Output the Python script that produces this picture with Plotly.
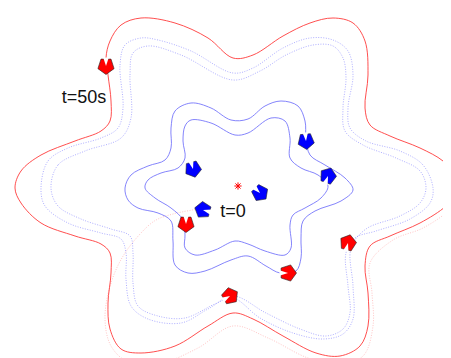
import plotly.graph_objects as go

# ---- trajectories (x right, y down, pixel-like units) ----
red_outer_x = [7, 13, 33, 67, 93, 102, 103, 100, 98, 102, 113, 133, 167, 200, 225, 245, 275, 302, 325, 345, 357, 360, 357, 362, 382, 412, 435, 447, 450, 448, 438, 412, 382, 362, 357, 360, 360, 352, 332, 308, 275, 245, 225, 200, 167, 133, 113, 102, 100, 103, 102, 93, 67, 33, 13, 7]
red_outer_y = [180, 163, 147, 133, 123, 113, 93, 67, 50, 33, 17, 10, 15, 30, 50, 47, 28, 15, 10, 15, 33, 67, 100, 117, 128, 140, 153, 167, 180, 185, 198, 215, 228, 238, 258, 285, 318, 338, 348, 345, 328, 311, 305, 318, 338, 345, 341, 321, 295, 265, 245, 236, 228, 215, 195, 180]

red_faint_x = [190, 165, 150, 140, 117, 103, 97, 103, 120, 150, 190, 225, 260, 300, 330, 355, 365, 364, 362, 385, 415, 440, 451]
red_faint_y = [201, 206, 211, 218, 245, 275, 311, 338, 354, 356, 340, 318, 330, 350, 356, 348, 318, 285, 255, 232, 220, 203, 188]

dot_outer_x = [33, 40, 60, 93, 110, 115, 112, 117, 133, 150, 183, 225, 245, 275, 302, 325, 340, 345, 340, 342, 358, 392, 415, 425, 422, 402, 368, 347, 338, 340, 342, 335, 318, 292, 258, 225, 200, 173, 140, 123, 118, 118, 113, 93, 60, 37, 33]
dot_outer_y = [180, 153, 140, 130, 120, 100, 57, 37, 30, 32, 43, 65, 60, 40, 30, 32, 43, 67, 100, 120, 133, 143, 157, 180, 195, 211, 223, 230, 245, 278, 305, 321, 328, 321, 305, 288, 301, 315, 311, 298, 271, 245, 231, 225, 215, 198, 180]

dot_inner_x = [43, 50, 77, 113, 123, 122, 125, 140, 173, 225, 252, 278, 305, 325, 335, 338, 335, 337, 355, 388, 412, 418, 412, 392, 358, 343, 345, 345, 335, 315, 285, 252, 225, 207, 177, 150, 130, 125, 125, 122, 103, 73, 50, 43]
dot_inner_y = [180, 157, 143, 130, 110, 67, 45, 38, 47, 72, 63, 47, 37, 38, 50, 70, 100, 123, 137, 150, 163, 180, 195, 208, 221, 240, 278, 311, 326, 331, 325, 310, 290, 296, 310, 308, 298, 275, 245, 228, 221, 211, 198, 180]

solid_outer_x = [117, 123, 140, 157, 163, 163, 167, 183, 203, 223, 240, 257, 273, 290, 297, 298, 302, 317, 337, 345, 333, 307, 295, 293, 293, 288, 272, 258, 240, 223, 197, 180, 167, 165, 163, 150, 130, 120, 117]
solid_outer_y = [180, 167, 158, 152, 140, 120, 103, 95, 100, 112, 111, 98, 93, 98, 113, 130, 147, 157, 170, 182, 193, 203, 213, 230, 250, 263, 265, 258, 248, 252, 263, 265, 257, 233, 213, 205, 200, 192, 180]

solid_inner_x = [137, 140, 153, 170, 177, 175, 177, 183, 203, 227, 240, 263, 277, 282, 282, 293, 310, 320, 313, 297, 285, 282, 283, 277, 257, 240, 227, 207, 187, 177, 177, 175, 163, 147, 137]
solid_inner_y = [180, 172, 165, 160, 150, 133, 118, 112, 115, 127, 125, 110, 113, 130, 150, 160, 167, 178, 190, 200, 207, 217, 240, 247, 243, 236, 233, 242, 247, 240, 227, 212, 200, 190, 180]

# ---- agent headings ----
red_arrow_x = [98, 178, 222, 280, 340]
red_arrow_y = [58, 216, 288, 265, 235]
red_arrow_dir = [180, 180, 60, 90, 15]

blue_arrow_x = [185, 195, 252, 298, 320]
blue_arrow_y = [161, 202, 185, 133, 168]
blue_arrow_dir = [165, 285, 135, 175, 20]

center_x = [230]
center_y = [178]

labels = ["t=50s", "t=0"]
label_x = [76, 225]
label_y = [90, 204]

fig = go.Figure()


def add_curve(x, y, color, dash, width):
    fig.add_trace(go.Scatter(
        x=x, y=y, mode="lines",
        line=dict(color=color, width=width, dash=dash, shape="spline", smoothing=1.0),
        hoverinfo="skip", showlegend=False))


add_curve(red_faint_x, red_faint_y, "rgba(255,140,140,0.5)", "1px,1.5px", 1)
add_curve(dot_outer_x, dot_outer_y, "rgba(130,130,255,0.65)", "1px,1.5px", 1)
add_curve(dot_inner_x, dot_inner_y, "rgba(130,130,255,0.65)", "1px,1.5px", 1)
add_curve(solid_outer_x, solid_outer_y, "rgba(110,110,250,0.85)", "solid", 1)
add_curve(solid_inner_x, solid_inner_y, "rgba(110,110,250,0.85)", "solid", 1)
add_curve(red_outer_x, red_outer_y, "rgba(255,60,60,0.9)", "solid", 1)


def add_arrows(x, y, d, color):
    fig.add_trace(go.Scatter(
        x=x, y=y, mode="markers",
        marker=dict(symbol="pentagon", size=17, angle=d, color=color,
                    line=dict(color="#222222", width=0.6)),
        hoverinfo="skip", showlegend=False))
    fig.add_trace(go.Scatter(
        x=x, y=y, mode="markers",
        marker=dict(symbol="arrow", size=9, angle=d, color="white",
                    line=dict(width=0)),
        hoverinfo="skip", showlegend=False))


add_arrows(red_arrow_x, red_arrow_y, red_arrow_dir, "#ff0000")
add_arrows(blue_arrow_x, blue_arrow_y, blue_arrow_dir, "#0000ff")

fig.add_trace(go.Scatter(
    x=center_x, y=center_y, mode="markers",
    marker=dict(symbol="asterisk-open", size=6, color="red",
                line=dict(color="red", width=1)),
    hoverinfo="skip", showlegend=False))

fig.add_trace(go.Scatter(
    x=label_x, y=label_y, mode="text", text=labels,
    textfont=dict(family="Liberation Sans, Arial", size=18, color="#111111"),
    textposition="middle center", hoverinfo="skip", showlegend=False))

fig.update_layout(
    width=451, height=358,
    margin=dict(l=0, r=0, t=0, b=0),
    paper_bgcolor="white", plot_bgcolor="white",
    xaxis=dict(range=[0, 451], visible=False, fixedrange=True),
    yaxis=dict(range=[358, 0], visible=False, fixedrange=True),
)

fig.write_html("out.html")
